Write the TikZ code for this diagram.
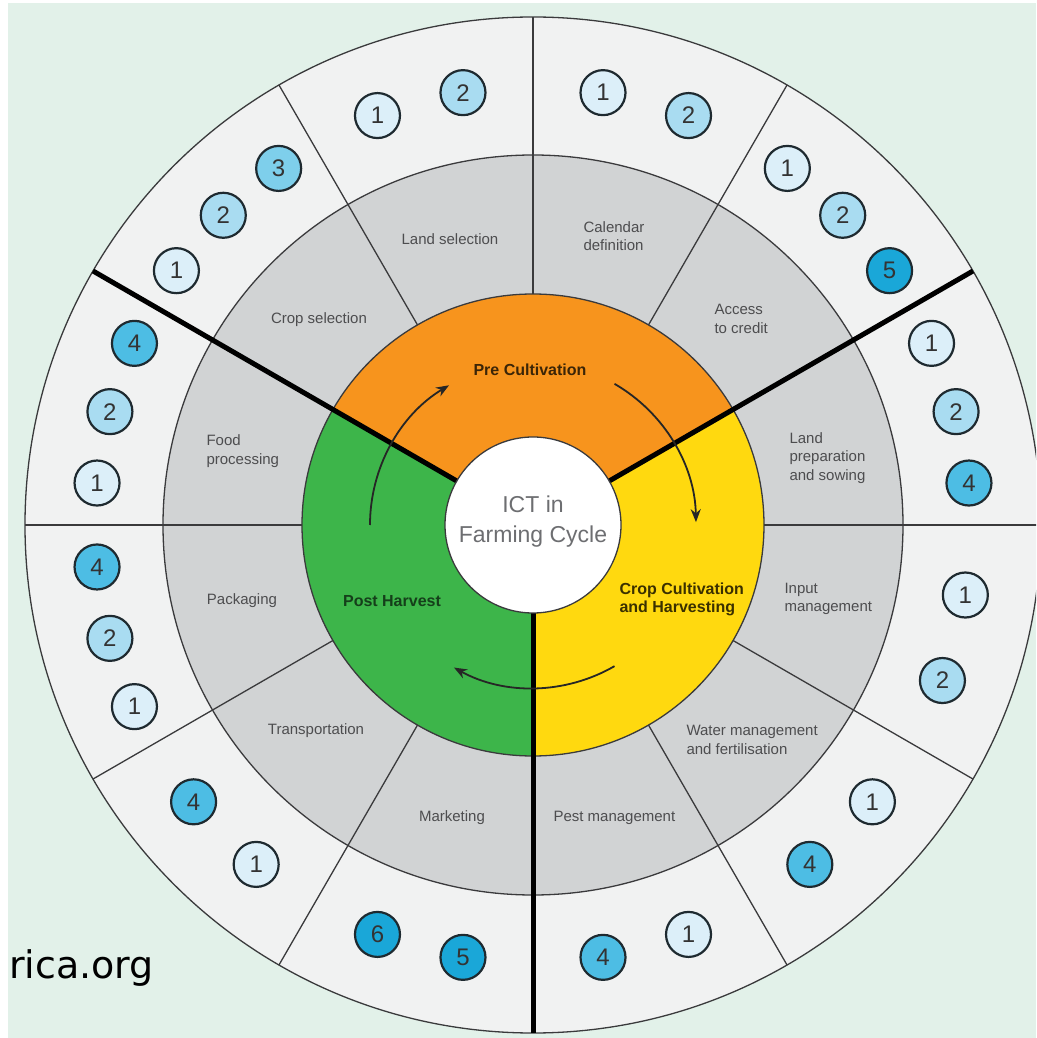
\documentclass[tikz,border=0pt]{standalone}
\usepackage{fontspec}
\setmainfont{Liberation Sans}
\newfontfamily\webfont{DejaVu Sans}
\usetikzlibrary{arrows.meta}

\definecolor{mint}{HTML}{E2F1E9}
\definecolor{ringgray}{HTML}{F1F2F2}
\definecolor{sectorgray}{HTML}{D1D3D4}
\definecolor{rimgray}{HTML}{3A3A3C}
\definecolor{labelgray}{HTML}{4D4D4F}
\definecolor{centergray}{HTML}{6D6E71}
\definecolor{preorange}{HTML}{F7941D}
\definecolor{cropyellow}{HTML}{FFD90F}
\definecolor{postgreen}{HTML}{3DB54A}
\definecolor{predark}{HTML}{3B2507}
\definecolor{cropdark}{HTML}{3A3000}
\definecolor{postdark}{HTML}{153F1A}
\definecolor{dotline}{HTML}{1E2A30}
\definecolor{tint1}{HTML}{DCEFF9}
\definecolor{tint2}{HTML}{A9DCF1}
\definecolor{tint3}{HTML}{7ECFEB}
\definecolor{tint4}{HTML}{4DBDE4}
\definecolor{tint5}{HTML}{1AA7D8}
\definecolor{tint6}{HTML}{1AA7D8}

\tikzset{
  rim/.style={draw=rimgray, line width=1.3pt},
  divider/.style={draw=black, line width=5pt},
  stage/.style={font=\fontsize{16}{18}\selectfont\bfseries, align=left},
  task/.style={text=labelgray, font=\fontsize{15}{18.5}\selectfont, align=left},
  numdot/.style={circle, draw=dotline, line width=2.2pt, minimum size=45pt,
    inner sep=0pt, text=black!80, font=\fontsize{24}{24}\selectfont},
  turn/.style={-{Stealth[length=13pt,width=10pt]}, line width=1.8pt, draw=black!85}
}

\begin{document}
\begin{tikzpicture}[x=1pt,y=1pt]
\useasboundingbox (-533,-513) rectangle (503,525);
\clip (-533,-513) rectangle (503,525);
\fill[white] (-533,-513) rectangle (503,525);
\fill[mint] (-525,-513) rectangle (503,522);

\filldraw[fill=ringgray, rim] (0,0) circle[radius=508];
\filldraw[fill=sectorgray, rim] (0,0) circle[radius=370];
\fill[preorange] (0,0) -- (30:231) arc[start angle=30, end angle=150, radius=231] -- cycle;
\fill[postgreen] (0,0) -- (150:231) arc[start angle=150, end angle=270, radius=231] -- cycle;
\fill[cropyellow] (0,0) -- (270:231) arc[start angle=270, end angle=390, radius=231] -- cycle;
\draw[rim] (0,0) circle[radius=231];
\foreach \a in {0,60,90,120,180,210,240,300,330}
  \draw[rim] (\a:231) -- (\a:508);
\foreach \a in {30,150,270}
  \draw[divider] (\a:88) -- (\a:508);
\filldraw[fill=white, rim] (0,0) circle[radius=88];

\draw[turn] (180:163) arc[start angle=180, end angle=121, radius=163];
\draw[turn] (60:163) arc[start angle=60, end angle=1, radius=163];
\draw[turn] (300:163) arc[start angle=300, end angle=241, radius=163];

\node[text=centergray, align=center, font=\fontsize{23}{30}\selectfont] (ict) at (0,3) {ICT in\\Farming Cycle};
\node[stage, text=predark] (pre) at (-3,155) {Pre Cultivation};
\node[stage, text=postdark] (post) at (-141,-76) {Post Harvest};
\node[stage, text=cropdark, anchor=west] (crop) at (83,-74) {Crop Cultivation\\and Harvesting};

\node[task] (landsel) at (-83,286) {Land selection};
\node[task, anchor=west] (calendar) at (47,289) {Calendar\\definition};
\node[task, anchor=west] (credit) at (178,206) {Access\\to credit};
\node[task, anchor=west] (sowing) at (253,67) {Land\\preparation\\and sowing};
\node[task, anchor=west] (input) at (248,-74) {Input\\management};
\node[task, anchor=west] (water) at (150,-215) {Water management\\and fertilisation};
\node[task, anchor=west] (pest) at (17,-293) {Pest management};
\node[task] (market) at (-81,-293) {Marketing};
\node[task] (transport) at (-217,-206) {Transportation};
\node[task] (packaging) at (-291,-76) {Packaging};
\node[task, anchor=west] (food) at (-330,74) {Food\\processing};
\node[task] (cropsel) at (-214,205) {Crop selection};

\foreach \a/\n [count=\i] in {110.8/1, 99.2/2, 144.5/1, 135/2, 125.5/3,
    80.8/1, 69.2/2, 54.5/1, 45/2, 35.5/5, 24.5/1, 15/2, 5.5/4,
    -9.2/1, -20.8/2, -39.2/1, -50.8/4, -69.2/1, -80.8/4,
    260.8/5, 249.2/6, 230.8/1, 219.2/4, 204.5/1, 195/2, 185.5/4,
    174.5/1, 165/2, 155.5/4}
  \node[numdot, fill=tint\n] (dot\i) at (\a:438) {\n};

\node[anchor=base west, inner sep=0pt, font=\webfont\fontsize{38}{38}\selectfont] (web) at (-524,-453) {rica.org};
\end{tikzpicture}
\end{document}
